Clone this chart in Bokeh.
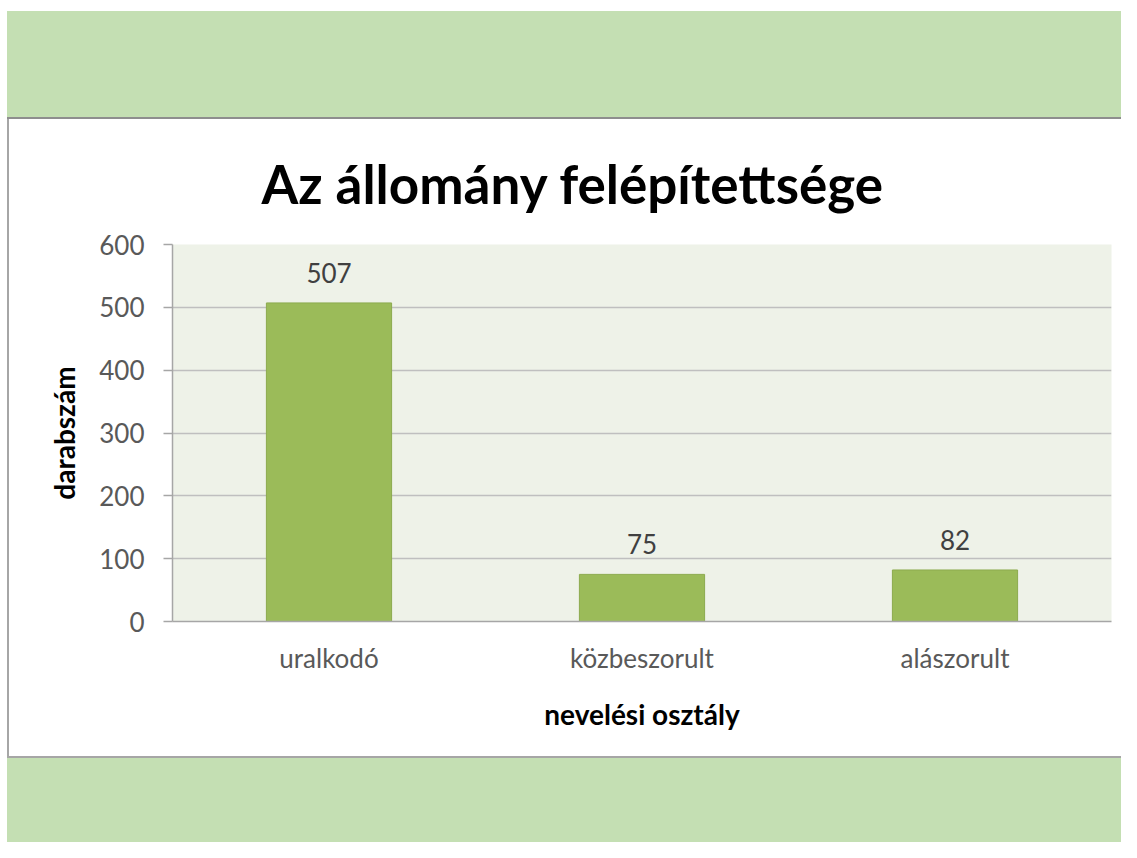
from bokeh.plotting import figure
from bokeh.models import ColumnDataSource, LabelSet, Range1d, FixedTicker, Div
from bokeh.layouts import column, row
from bokeh.core.properties import value
from bokeh.embed import file_html
from bokeh.resources import INLINE

# data
categories = ["uralkodó", "közbeszorult", "alászorult"]
counts = [507, 75, 82]
y_ticks = [0, 100, 200, 300, 400, 500, 600]

title_text = "Az állomány felépítettsége"
x_title = "nevelési osztály"
y_title = "darabszám"

FONT = "Lato"
BAND = "#C4DFB3"

src = ColumnDataSource(dict(cat=categories, val=counts, lbl=[str(v) for v in counts]))

p = figure(x_range=categories, y_range=Range1d(0, 600),
           width=1112, height=637, output_backend="svg", toolbar_location=None,
           min_border_left=163, min_border_right=10, min_border_top=125, min_border_bottom=135,
           background_fill_color="#EEF2E8", border_fill_color="white", outline_line_color=None,
           margin=0)

p.title.text = title_text
p.title.text_font = FONT
p.title.text_font_size = "53px"
p.title.text_font_style = "bold"
p.title.text_color = "#000000"
p.title.text_line_height = 1.0
p.title.align = "left"
p.title.offset = 89
p.title.standoff = 60

p.vbar(x="cat", top="val", width=0.4, source=src, fill_color="#9BBB59", line_color="#8CAB4E", line_width=1)

labels = LabelSet(x="cat", y="val", text="lbl", source=src, text_align="center", text_baseline="alphabetic",
                  y_offset=20, text_font=value(FONT), text_font_size="26px", text_color="#404040")
p.add_layout(labels)

p.xgrid.grid_line_color = None
p.ygrid.grid_line_color = "#BFBFBF"
p.ygrid.grid_line_width = 1.5

p.yaxis.ticker = FixedTicker(ticks=y_ticks)
p.yaxis.axis_line_color = "#A6A6A6"
p.yaxis.axis_line_width = 1.5
p.yaxis.major_tick_line_color = "#A6A6A6"
p.yaxis.major_tick_line_width = 1.5
p.yaxis.major_tick_out = 9
p.yaxis.major_tick_in = 0
p.yaxis.minor_tick_line_color = None
p.yaxis.major_label_text_font = FONT
p.yaxis.major_label_text_font_size = "26px"
p.yaxis.major_label_text_color = "#595959"
p.yaxis.major_label_standoff = 19
p.yaxis.axis_label = y_title
p.yaxis.axis_label_text_font = FONT
p.yaxis.axis_label_text_font_size = "28px"
p.yaxis.axis_label_text_font_style = "bold"
p.yaxis.axis_label_text_color = "#000000"
p.yaxis.axis_label_standoff = 15

p.xaxis.axis_line_color = "#A6A6A6"
p.xaxis.axis_line_width = 1.5
p.xaxis.major_tick_out = 0
p.xaxis.major_tick_in = 0
p.xaxis.major_tick_line_color = None
p.xaxis.major_label_text_font = FONT
p.xaxis.major_label_text_font_size = "26px"
p.xaxis.major_label_text_color = "#595959"
p.xaxis.major_label_standoff = 20
p.xaxis.axis_label = x_title
p.xaxis.axis_label_text_font = FONT
p.xaxis.axis_label_text_font_size = "28px"
p.xaxis.axis_label_text_font_style = "bold"
p.xaxis.axis_label_text_color = "#000000"
p.xaxis.axis_label_standoff = 20

top = Div(text="", width=1114, height=106, margin=(11, 0, 0, 7), styles={"background-color": BAND})
line1 = Div(text="", width=1114, height=2, margin=(0, 0, 0, 7), styles={"background-color": "#8E8E8E"})
vline = Div(text="", width=2, height=637, margin=(0, 0, 0, 7), styles={"background-color": "#A6A6A6"})
line2 = Div(text="", width=1114, height=2, margin=(0, 0, 0, 7), styles={"background-color": "#A6A6A6"})
bottom = Div(text="", width=1114, height=84, margin=(0, 0, 0, 7), styles={"background-color": BAND})

layout = column(top, line1, row(vline, p, spacing=0, margin=0), line2, bottom, spacing=0, margin=0)

open("out.html", "w").write(file_html(layout, INLINE))
